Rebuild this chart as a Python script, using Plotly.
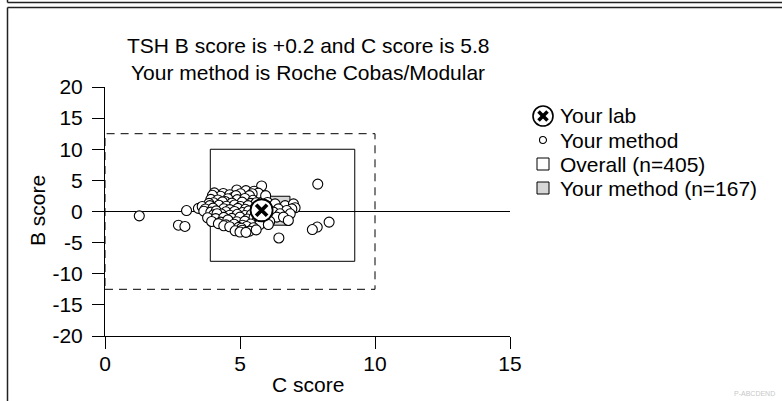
import plotly.graph_objects as go

W, H = 782, 401

# ---------------- data ----------------
title_lines = ["TSH B score is +0.2 and C score is 5.8",
               "Your method is Roche Cobas/Modular"]
x_ticks = [0, 5, 10, 15]
x_ticktext = ["0", "5", "10", "15"]
y_ticks = [-20, -15, -10, -5, 0, 5, 10, 15, 20]
y_ticktext = ["-20", "-15", "-10", "-5", "0", "5", "10", "15", "20"]
legend_labels = ["Your lab", "Your method", "Overall (n=405)", "Your method (n=167)"]

lab_c = [5.8]
lab_b = [0.2]

method_c = [
    1.27, 3.02, 2.72, 2.96, 3.46, 7.88, 8.30, 7.86, 7.68, 6.44,
    5.80, 4.88, 5.22, 5.52, 4.05, 4.38, 5.02, 5.68, 4.62, 5.45,
    4.28, 4.75, 5.35, 5.95, 3.98, 4.85,
    3.92, 4.18, 4.55, 4.90, 5.18, 5.48, 4.45,
    4.02, 4.35, 4.70, 5.08, 5.40, 6.02, 3.85, 5.60,
    3.60, 3.88, 4.22, 4.50, 4.80, 5.02, 5.30, 5.58, 6.00,
    6.30, 6.67, 6.98, 7.04,
    3.72, 4.00, 4.40, 4.62, 4.92, 5.20, 5.48, 5.65, 6.42, 6.92,
    3.66, 3.92, 4.12, 4.48, 4.80, 5.10, 5.32, 6.10, 6.73, 6.24,
    4.02, 4.30, 4.62, 4.90, 5.18, 5.42, 5.90, 6.48, 6.86, 4.15,
    3.80, 4.10, 4.40, 4.70, 5.00, 5.28, 5.52, 5.82, 6.36, 6.61,
    3.95, 4.28, 4.58, 4.88, 5.18, 5.60, 6.10, 6.79, 4.55, 5.75,
    4.20, 4.48, 4.78, 5.10, 5.40, 5.72, 6.05,
    4.40, 4.62, 4.95, 5.25, 5.50, 5.05,
    4.82, 5.08, 5.35, 5.60,
    5.00, 5.22,
]
method_b = [
    -0.70, 0.15, -2.20, -2.40, 0.50, 4.40, -1.70, -2.50, -2.90, -4.25,
    4.10, 3.45, 3.35, 3.25, 3.00, 2.90, 2.85, 2.95, 2.70, 2.85,
    2.45, 2.30, 2.55, 2.55, 2.60, 2.55,
    1.95, 1.85, 2.05, 1.90, 2.10, 1.80, 1.60,
    1.40, 1.55, 1.35, 1.50, 1.30, 1.45, 1.30, 1.40,
    0.80, 0.95, 1.00, 0.85, 1.05, 0.80, 0.95, 0.70, 0.90,
    1.22, 0.95, 1.22, 0.60,
    0.40, 0.55, 0.45, 0.30, 0.50, 0.35, 0.20, 0.50, 0.42, 0.42,
    0.05, -0.10, 0.10, -0.05, 0.00, -0.15, 0.10, -0.10, 0.16, -0.10,
    -0.55, -0.40, -0.60, -0.45, -0.65, -0.50, -0.40, -0.37, -0.37, -0.35,
    -1.00, -1.15, -0.95, -1.10, -0.90, -1.20, -1.00, -1.10, -0.90, -0.90,
    -1.60, -1.70, -1.50, -1.65, -1.55, -1.70, -1.60, -1.44, -1.35, -1.60,
    -1.95, -2.15, -2.05, -2.20, -2.00, -2.15, -2.10,
    -2.30, -2.45, -2.55, -2.40, -2.60, -2.70,
    -3.10, -3.00, -3.15, -2.95,
    -3.30, -3.35,
]

overall_c = [3.90, 9.25]
overall_b = [-8.0, 10.0]
method_box_c = [3.93, 6.85]
method_box_b = [-2.2, 2.45]
limit_c = [0.0, 10.0]
limit_b = [-12.5, 12.5]

# ---------------- helpers ----------------
FONT = "Liberation Sans, Arial, sans-serif"
FS = 21


def fx(p):
    return p / W


def fy(p):
    return 1 - p / H


fig = go.Figure()

fig.add_trace(go.Scatter(
    x=method_c, y=method_b, mode="markers", showlegend=False, hoverinfo="skip",
    marker=dict(symbol="circle", size=10, color="white",
                line=dict(color="black", width=1.1)),
))
fig.add_trace(go.Scatter(
    x=lab_c, y=lab_b, mode="markers", showlegend=False, hoverinfo="skip",
    marker=dict(symbol="circle", size=22, color="white",
                line=dict(color="black", width=1.8)),
))
fig.add_trace(go.Scatter(
    x=lab_c, y=lab_b, mode="markers", showlegend=False, hoverinfo="skip",
    marker=dict(symbol="x-thin-open", size=11, color="black",
                line=dict(color="black", width=3.8)),
))

shapes = []
shapes.append(dict(type="rect", xref="x", yref="y", layer="below",
                   x0=limit_c[0], x1=limit_c[1], y0=limit_b[0], y1=limit_b[1],
                   line=dict(color="black", width=1, dash="8px,6px")))
shapes.append(dict(type="rect", xref="x", yref="y", layer="below",
                   x0=overall_c[0], x1=overall_c[1], y0=overall_b[0], y1=overall_b[1],
                   line=dict(color="black", width=1)))
shapes.append(dict(type="rect", xref="x", yref="y", layer="below",
                   x0=method_box_c[0], x1=method_box_c[1],
                   y0=method_box_b[0], y1=method_box_b[1],
                   fillcolor="#d6d6d6", line=dict(color="black", width=1)))

frame = dict(color="#222222", width=1.5)
shapes.append(dict(type="line", xref="paper", yref="paper",
                   x0=fx(7.5), x1=fx(7.5), y0=fy(0), y1=fy(2.5), line=frame))
shapes.append(dict(type="line", xref="paper", yref="paper",
                   x0=fx(7.5), x1=fx(W), y0=fy(2.5), y1=fy(2.5), line=frame))
shapes.append(dict(type="line", xref="paper", yref="paper",
                   x0=fx(7.5), x1=fx(W), y0=fy(7.5), y1=fy(7.5), line=frame))
shapes.append(dict(type="line", xref="paper", yref="paper",
                   x0=fx(7.5), x1=fx(7.5), y0=fy(7.5), y1=fy(H), line=frame))

leg_x = 543
leg_rows = [116, 140, 164, 188]
r = 10
shapes.append(dict(type="circle", xref="paper", yref="paper",
                   x0=fx(leg_x - r), x1=fx(leg_x + r),
                   y0=fy(leg_rows[0] + r), y1=fy(leg_rows[0] - r),
                   fillcolor="white", line=dict(color="black", width=1.6)))
d = 4.5
for sgn in (1, -1):
    shapes.append(dict(type="line", xref="paper", yref="paper",
                       x0=fx(leg_x - d), x1=fx(leg_x + d),
                       y0=fy(leg_rows[0] - sgn * d), y1=fy(leg_rows[0] + sgn * d),
                       line=dict(color="black", width=3.5)))
rs = 3.5
shapes.append(dict(type="circle", xref="paper", yref="paper",
                   x0=fx(leg_x - rs), x1=fx(leg_x + rs),
                   y0=fy(leg_rows[1] + rs), y1=fy(leg_rows[1] - rs),
                   fillcolor="white", line=dict(color="black", width=1.1)))
sq = 6
shapes.append(dict(type="rect", xref="paper", yref="paper",
                   x0=fx(leg_x - sq), x1=fx(leg_x + sq),
                   y0=fy(leg_rows[2] + sq), y1=fy(leg_rows[2] - sq),
                   fillcolor="white", line=dict(color="black", width=1)))
shapes.append(dict(type="rect", xref="paper", yref="paper",
                   x0=fx(leg_x - sq), x1=fx(leg_x + sq),
                   y0=fy(leg_rows[3] + sq), y1=fy(leg_rows[3] - sq),
                   fillcolor="#d6d6d6", line=dict(color="black", width=1)))

annotations = []
for label, row in zip(legend_labels, leg_rows):
    annotations.append(dict(text=label, xref="paper", yref="paper",
                            x=fx(558), y=fy(row), xanchor="left", yanchor="middle",
                            showarrow=False, font=dict(size=FS, color="black")))
for line_text, row in zip(title_lines, [45, 72]):
    annotations.append(dict(text=line_text, xref="paper", yref="paper",
                            x=fx(307.5), y=fy(row), xanchor="center", yanchor="middle",
                            showarrow=False, font=dict(size=FS, color="black")))
annotations.append(dict(text="B score", xref="paper", yref="paper",
                        x=fx(37), y=fy(211), textangle=-90,
                        xanchor="center", yanchor="middle", showarrow=False,
                        font=dict(size=FS, color="black")))
annotations.append(dict(text="C score", xref="paper", yref="paper",
                        x=fx(307.5), y=fy(384), xanchor="center", yanchor="middle",
                        showarrow=False, font=dict(size=FS, color="black")))
annotations.append(dict(text="P-ABCDEND", xref="paper", yref="paper",
                        x=fx(754), y=fy(393), xanchor="center", yanchor="middle",
                        showarrow=False, font=dict(size=7, color="#c8c8c8")))

fig.update_layout(
    width=W, height=H, autosize=False,
    margin=dict(l=0, r=0, t=0, b=0, pad=0, autoexpand=False),
    paper_bgcolor="white", plot_bgcolor="rgba(0,0,0,0)",
    font=dict(family=FONT, size=FS, color="black"),
    showlegend=False, hovermode=False,
    shapes=shapes, annotations=annotations,
    xaxis=dict(domain=[fx(105), fx(510)], range=[0, 15], automargin=False,
               tickmode="array", tickvals=x_ticks, ticktext=x_ticktext,
               ticks="outside", ticklen=12, tickwidth=1, tickcolor="black",
               showline=True, linecolor="black", linewidth=1,
               showgrid=False, zeroline=False, ticklabelstandoff=-3,
               tickfont=dict(size=FS)),
    yaxis=dict(domain=[fy(336), fy(87)], range=[-20, 20], automargin=False,
               tickmode="array", tickvals=y_ticks, ticktext=y_ticktext,
               ticks="outside", ticklen=12, tickwidth=1, tickcolor="black",
               showline=True, linecolor="black", linewidth=1,
               showgrid=False, zeroline=True, zerolinecolor="black", zerolinewidth=1,
               ticklabelstandoff=5, tickfont=dict(size=FS)),
)

fig.write_html(
    "out.html",
    config={"displayModeBar": False, "staticPlot": True},
    post_script="document.body.style.margin='0';document.body.style.overflow='hidden';",
)
